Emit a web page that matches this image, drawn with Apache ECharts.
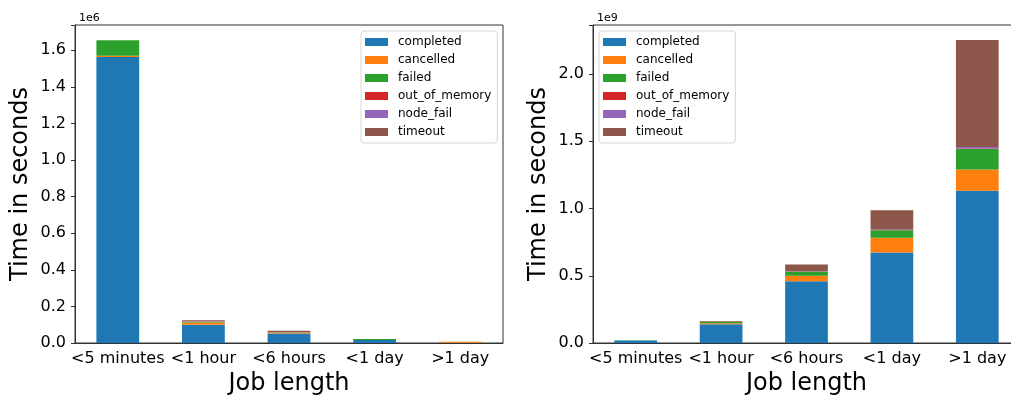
<!DOCTYPE html>
<html>
<head>
<meta charset="utf-8">
<script src="https://cdn.jsdelivr.net/npm/echarts@6/dist/echarts.min.js"></script>
<style>
html, body { margin: 0; padding: 0; background: #fff; }
#main { width: 1011px; height: 397px; }
</style>
</head>
<body>
<div id="main"></div>
<script>
var categories = ['<5 minutes', '<1 hour', '<6 hours', '<1 day', '>1 day'];
var states = ['completed', 'cancelled', 'failed', 'out_of_memory', 'node_fail', 'timeout'];
var colors = ['#1f77b4', '#ff7f0e', '#2ca02c', '#d62728', '#9467bd', '#8c564b'];

// left plot, seconds
var completedLeft = [1563000, 100000, 52000, 16000, 2000];
var cancelledLeft = [7000, 12000, 5000, 1000, 5000];
var failedLeft = [85000, 4000, 2000, 5000, 0];
var oomLeft = [0, 2000, 0, 0, 0];
var nodeFailLeft = [0, 1000, 0, 0, 0];
var timeoutLeft = [0, 5000, 8000, 0, 0];

// right plot, seconds
var completedRight = [18000000, 139000000, 460000000, 673000000, 1133000000];
var cancelledRight = [1000000, 8000000, 40000000, 109000000, 158000000];
var failedRight = [1000000, 10000000, 32000000, 56000000, 151000000];
var oomRight = [0, 0, 1000000, 2000000, 4000000];
var nodeFailRight = [0, 0, 2000000, 5000000, 12000000];
var timeoutRight = [0, 4000000, 49000000, 142000000, 795000000];

var leftData = [completedLeft, cancelledLeft, failedLeft, oomLeft, nodeFailLeft, timeoutLeft];
var rightData = [completedRight, cancelledRight, failedRight, oomRight, nodeFailRight, timeoutRight];

var font = 'DejaVu Sans';
var myChart = echarts.init(document.getElementById('main'), null, { renderer: 'canvas' });

function xAxisFor(idx) {
    return {
        type: 'category',
        gridIndex: idx,
        data: categories,
        name: 'Job length',
        nameLocation: 'middle',
        nameGap: 28,
        nameTextStyle: { fontFamily: font, fontSize: 24, color: '#000' },
        axisLine: { lineStyle: { color: '#333' } },
        axisTick: { alignWithLabel: true, length: 4, lineStyle: { color: '#333' } },
        axisLabel: { fontFamily: font, fontSize: 16, color: '#000', margin: 8, interval: 0 }
    };
}

function yAxisFor(idx, max, step, scale) {
    return {
        type: 'value',
        gridIndex: idx,
        min: 0,
        max: max,
        interval: step,
        name: 'Time in seconds',
        nameLocation: 'middle',
        nameGap: 42,
        nameTextStyle: { fontFamily: font, fontSize: 24, color: '#000' },
        splitLine: { show: false },
        axisLine: { show: true, lineStyle: { color: '#333' } },
        axisTick: { show: true, length: 4, lineStyle: { color: '#333' } },
        axisLabel: {
            fontFamily: font, fontSize: 16, color: '#000', margin: 9,
            formatter: function (v) {
                var r = v / step;
                if (Math.abs(r - Math.round(r)) > 1e-6) return '';
                return (v / scale).toFixed(1);
            }
        }
    };
}

function legendFor(idx, left) {
    return {
        orient: 'vertical',
        left: left,
        top: 31,
        padding: [4, 6, 4, 4],
        itemGap: 4,
        itemWidth: 23,
        itemHeight: 8,
        icon: 'rect',
        borderColor: '#d6d6d6',
        borderWidth: 1,
        borderRadius: 3,
        backgroundColor: 'rgba(255,255,255,0.8)',
        textStyle: { fontFamily: font, fontSize: 12, color: '#000', lineHeight: 14, padding: [0, 0, 0, 5] },
        data: states
    };
}

var series = [];
for (var g = 0; g < 2; g++) {
    var src = g === 0 ? leftData : rightData;
    for (var i = 0; i < states.length; i++) {
        series.push({
            name: states[i],
            type: 'bar',
            stack: 'total' + g,
            xAxisIndex: g,
            yAxisIndex: g,
            barWidth: '50%',
            itemStyle: { color: colors[i] },
            emphasis: { disabled: true },
            data: src[i]
        });
    }
}

var option = {
    animation: false,
    color: colors,
    title: [
        { text: '1e6', left: 74, top: 8, textStyle: { fontFamily: font, fontSize: 11, fontWeight: 'normal', color: '#000' } },
        { text: '1e9', left: 592, top: 8, textStyle: { fontFamily: font, fontSize: 11, fontWeight: 'normal', color: '#000' } }
    ],
    legend: [legendFor(0, 361), legendFor(1, 599)],
    grid: [
        { left: 75, top: 25, width: 428, height: 318, outerBoundsMode: 'none', show: true, borderColor: '#333', borderWidth: 1, backgroundColor: 'transparent' },
        { left: 593, top: 25, width: 427, height: 318, outerBoundsMode: 'none', show: true, borderColor: '#333', borderWidth: 1, backgroundColor: 'transparent' }
    ],
    xAxis: [xAxisFor(0), xAxisFor(1)],
    yAxis: [yAxisFor(0, 1738000, 200000, 1e6), yAxisFor(1, 2365000000, 500000000, 1e9)],
    series: series
};

myChart.setOption(option);
</script>
</body>
</html>
